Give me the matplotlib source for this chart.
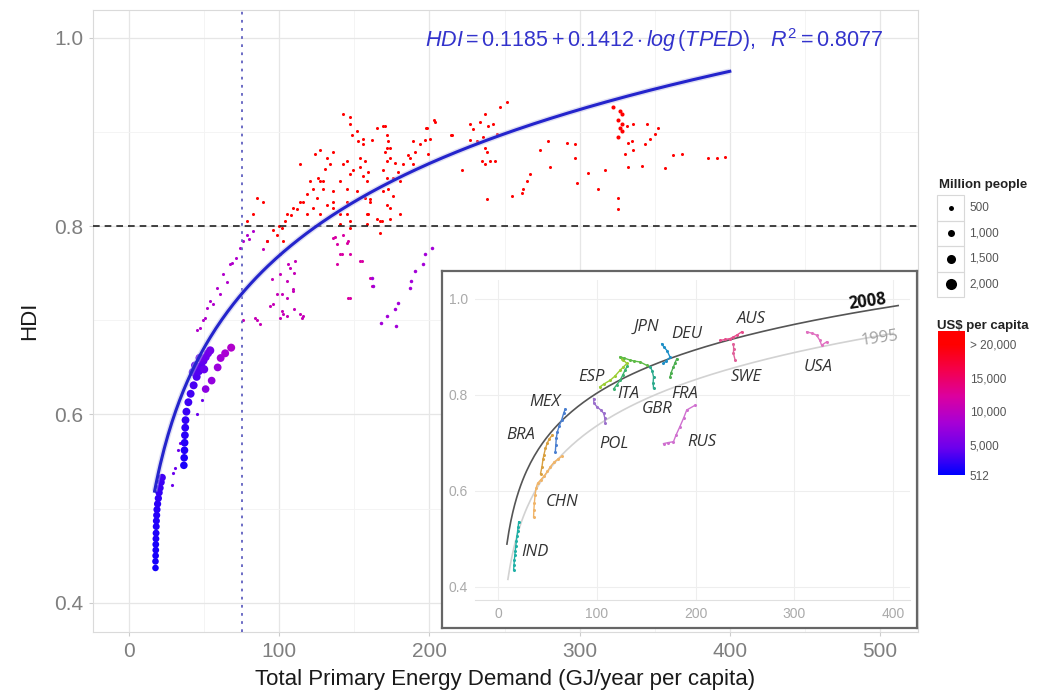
import numpy as np
import matplotlib
matplotlib.use("Agg")
from matplotlib import pyplot as plt
from matplotlib.colors import LinearSegmentedColormap, Normalize
from matplotlib.patches import Rectangle

W, H = 1037, 696

# ---------- main panel: TPED (GJ/yr per capita) vs HDI ----------
# large markers (India / China, year by year)
ind_tped = [17.6, 17.6, 17.7, 17.8, 17.8, 17.9, 18.0, 18.1, 18.2, 18.4, 18.6, 19.0, 19.5, 20.0, 20.6, 21.3, 22.0]
ind_hdi = [0.437, 0.444, 0.450, 0.456, 0.462, 0.468, 0.474, 0.481, 0.487, 0.493, 0.499, 0.505, 0.511, 0.517, 0.522, 0.528, 0.533]
ind_pop = [890, 905, 920, 935, 950, 965, 980, 995, 1010, 1025, 1040, 1055, 1070, 1085, 1100, 1115, 1130]
ind_gdp = [1250, 1300, 1380, 1450, 1500, 1580, 1650, 1720, 1800, 1900, 1980, 2080, 2200, 2350, 2500, 2700, 2900]

chn_tped = [36.5, 36.7, 36.9, 37.0, 37.2, 37.4, 37.6, 38.2, 39.5, 41.0, 43.0, 45.0, 46.5, 48.0, 49.5, 51.0, 52.5, 54.0,
            44.0, 47.0, 50.0, 42.5]
chn_hdi = [0.546, 0.554, 0.562, 0.570, 0.578, 0.586, 0.594, 0.603, 0.613, 0.622, 0.631, 0.640, 0.646, 0.652, 0.657, 0.661, 0.665, 0.668,
           0.652, 0.660, 0.648, 0.645]
chn_pop = [1140, 1150, 1160, 1170, 1180, 1190, 1200, 1210, 1220, 1230, 1240, 1250, 1260, 1270, 1280, 1290, 1300, 1320,
           1300, 1310, 1290, 1280]
chn_gdp = [1500, 1650, 1800, 1950, 2100, 2250, 2400, 2600, 2800, 3000, 3200, 3400, 3600, 3800, 4100, 4400, 4800, 5200,
           4000, 4600, 4300, 3700]

trail_tped = [51, 55, 59, 61, 64, 68]
trail_hdi = [0.627, 0.636, 0.650, 0.660, 0.665, 0.671]
trail_pop = [1150, 1170, 1190, 1210, 1230, 1250]
trail_gdp = [6500, 7000, 7500, 8000, 8500, 9000]

# small markers, grouped by colour band
low_tped = [20.6, 22.0, 28.6, 29.3, 30.6, 32.6, 34.0, 45.0, 48.6]
low_hdi = [0.535, 0.531, 0.525, 0.538, 0.543, 0.562, 0.570, 0.601, 0.615]
low_pop, low_gdp = 60, 4500

band_tped = [45, 47, 49, 50.6, 52, 54, 56, 58.6, 60.6, 62.6, 65, 67, 68.6, 71, 74, 76, 78.5, 80, 82.5]
band_hdi = [0.690, 0.692, 0.700, 0.703, 0.713, 0.721, 0.717, 0.734, 0.728, 0.749, 0.741, 0.760,
            0.761, 0.766, 0.777, 0.784, 0.791, 0.786, 0.795]
band_pop, band_gdp = 45, 9000

mid_tped = [76, 85, 87, 84, 94, 100.5, 102, 105, 110, 116, 115, 102, 105, 109, 100.5, 105, 110, 110.5,
            106, 100.5, 95, 96, 98.5, 107, 109, 102.5, 114, 92, 89]
mid_hdi = [0.700, 0.700, 0.696, 0.703, 0.715, 0.702, 0.710, 0.705, 0.712, 0.705, 0.703, 0.728, 0.724,
           0.733, 0.749, 0.742, 0.750, 0.763, 0.760, 0.770, 0.744, 0.717, 0.728, 0.756, 0.731, 0.707,
           0.707, 0.784, 0.776]
mid_pop, mid_gdp = 45, 10500

m2_tped = [138.5, 140.5, 147, 146, 155, 138.5, 145, 137, 142, 162, 160.5, 147, 153.8, 142.5, 135.8, 146]
m2_hdi = [0.760, 0.770, 0.770, 0.724, 0.763, 0.781, 0.782, 0.789, 0.770, 0.736, 0.745, 0.724, 0.763,
          0.791, 0.787, 0.784]
m2_pop, m2_gdp = 45, 12000

rus_tped = [202, 197, 196, 190.5, 188, 187, 179, 177, 172, 168, 178, 162, 162.5]
rus_hdi = [0.777, 0.770, 0.760, 0.752, 0.742, 0.734, 0.718, 0.712, 0.705, 0.697, 0.694, 0.745, 0.736]
rus_pop, rus_gdp = 145, 8000

red_tped = [142.5, 147, 147, 148.5, 151.8, 152.5, 155.8, 161.8, 165, 170.4, 171.8, 172.4, 171.8, 170.4,
            173.8, 171.8, 169, 177, 179, 182.4, 187, 190.4, 193.7, 197, 200.4, 198.4, 203.7, 215, 199,
            189, 180.4, 175.8, 172.4, 169, 175.8, 171.8, 173.8, 168.4, 167, 159, 160.4, 157, 158.4,
            155.8, 159, 157, 153.8, 149, 147, 142.5, 140.5, 135.8, 133.8, 135.8, 131.8, 127, 124, 129,
            126, 122.5, 118.5, 116, 125, 131.8, 122.5, 118.5, 127, 135.8, 140.5, 147, 145, 145, 151.8,
            158.4, 165, 173.8, 171.8, 169, 173.8, 155.8, 153.8, 145, 130.5, 114, 120.5, 127, 129, 114,
            109, 105, 102, 98.5, 102.5, 92, 89, 85, 82.5, 78.5, 140.5, 147, 158.4, 160.4, 167, 180.4,
            189, 186, 135.8, 145, 100, 104, 108, 112, 96]
red_hdi = [0.919, 0.916, 0.908, 0.897, 0.901, 0.890, 0.893, 0.892, 0.904, 0.906, 0.897, 0.890, 0.883,
           0.879, 0.872, 0.869, 0.860, 0.867, 0.858, 0.866, 0.872, 0.879, 0.887, 0.892, 0.893, 0.904,
           0.911, 0.897, 0.877, 0.866, 0.848, 0.851, 0.840, 0.837, 0.832, 0.823, 0.808, 0.805, 0.793,
           0.813, 0.829, 0.830, 0.848, 0.853, 0.858, 0.869, 0.863, 0.860, 0.855, 0.866, 0.848, 0.837,
           0.866, 0.879, 0.872, 0.881, 0.877, 0.848, 0.851, 0.840, 0.834, 0.826, 0.830, 0.823, 0.819,
           0.813, 0.813, 0.819, 0.802, 0.805, 0.813, 0.826, 0.837, 0.802, 0.808, 0.819, 0.851, 0.906,
           0.883, 0.887, 0.872, 0.869, 0.861, 0.866, 0.848, 0.848, 0.840, 0.826, 0.819, 0.813, 0.798,
           0.791, 0.784, 0.784, 0.826, 0.830, 0.813, 0.805, 0.813, 0.798, 0.813, 0.826, 0.805, 0.813,
           0.890, 0.876, 0.826, 0.840, 0.800, 0.806, 0.812, 0.818, 0.796]
red_pop, red_gdp = 40, 24000

right_tped = [222, 227, 229, 233.7, 237, 239, 242.4, 227, 231.6, 235.6, 237, 238.4, 245, 247, 251.7, 235,
              240.4, 237, 243.7, 238.4, 255, 262.3, 261.6, 265, 267, 273.6, 279, 280.3, 291.6, 297, 297,
              298.3, 305.6, 312, 317, 325.6, 325.6, 332, 331.5, 335.5, 345, 352, 350, 347, 335, 332,
              343.5, 335.5, 330, 362, 368, 385.5, 391.5, 397, 341.5, 357, 202.8, 198, 214.6]
right_hdi = [0.860, 0.908, 0.903, 0.911, 0.919, 0.906, 0.909, 0.892, 0.890, 0.895, 0.883, 0.879, 0.898,
             0.927, 0.932, 0.869, 0.869, 0.866, 0.869, 0.829, 0.832, 0.840, 0.835, 0.848, 0.855, 0.881,
             0.890, 0.863, 0.888, 0.887, 0.872, 0.846, 0.856, 0.839, 0.860, 0.830, 0.818, 0.863, 0.906,
             0.908, 0.908, 0.904, 0.898, 0.893, 0.890, 0.888, 0.887, 0.881, 0.877, 0.876, 0.877, 0.872,
             0.872, 0.874, 0.864, 0.862, 0.913, 0.904, 0.897]
right_pop, right_gdp = 40, 24000

usa_tped = [322, 327, 328, 325.6, 328, 327, 328, 325.6]
usa_hdi = [0.927, 0.922, 0.919, 0.913, 0.909, 0.904, 0.901, 0.895]
usa_pop, usa_gdp = 290, 24000

# fitted model shown in the panel
fit_a, fit_b = 0.1185, 0.1412
fit_range = (17, 400)

# ---------- inset: country trajectories ----------
inset_tracks = {
    "IND": ([15.8, 16.2, 16.5, 17.0, 17.5, 18.0, 18.6, 19.2, 19.8, 20.4, 20.9],
            [0.435, 0.445, 0.455, 0.465, 0.475, 0.485, 0.495, 0.505, 0.515, 0.525, 0.535], "#1FB0A6"),
    "CHN": ([36, 36.3, 36.8, 37.5, 38.5, 40, 43, 46.5, 50, 53, 57, 61, 65],
            [0.545, 0.560, 0.575, 0.590, 0.605, 0.615, 0.622, 0.630, 0.640, 0.650, 0.660, 0.666, 0.672], "#F0B468"),
    "BRA": ([43, 44.5, 45.5, 46.5, 48, 50, 52, 55],
            [0.635, 0.650, 0.665, 0.675, 0.688, 0.700, 0.708, 0.716], "#D9A040"),
    "MEX": ([58, 58.5, 59, 60, 62, 64.5, 66.4, 68],
            [0.681, 0.695, 0.710, 0.722, 0.735, 0.748, 0.761, 0.770], "#4A7FD0"),
    "POL": ([96.7, 97, 100, 104, 107, 108, 108.5],
            [0.792, 0.783, 0.775, 0.768, 0.761, 0.752, 0.740], "#9B6FCC"),
    "ESP": ([103, 107, 113.5, 118, 123.6, 127, 130.4, 127, 125],
            [0.816, 0.822, 0.830, 0.838, 0.851, 0.858, 0.865, 0.872, 0.875], "#9ACD32"),
    "ITA": ([117, 120, 123.6, 126, 128.6, 131],
            [0.812, 0.820, 0.830, 0.840, 0.851, 0.860], "#3CB371"),
    "JPN": ([123.6, 128, 133.8, 138, 144, 150.6],
            [0.879, 0.876, 0.872, 0.870, 0.868, 0.861], "#5DBB46"),
    "GBR": ([154, 156, 157.4, 157, 157.4],
            [0.858, 0.850, 0.837, 0.825, 0.813], "#2BAA8C"),
    "DEU": ([165.8, 168, 171, 174.2, 170, 167.4],
            [0.906, 0.899, 0.892, 0.878, 0.870, 0.865], "#1E90C8"),
    "FRA": ([174.2, 175, 177.6, 179, 181],
            [0.837, 0.845, 0.858, 0.866, 0.875], "#4CAF50"),
    "AUS": ([224.8, 230, 235, 238, 241.6, 246.7],
            [0.913, 0.915, 0.917, 0.920, 0.924, 0.931], "#E64C8C"),
    "SWE": ([238.3, 238.5, 238.3, 240],
            [0.906, 0.896, 0.886, 0.872], "#E0609A"),
    "USA": ([312.4, 318, 322.4, 325.8, 327.5, 332.6],
            [0.931, 0.928, 0.924, 0.913, 0.903, 0.910], "#E070C0"),
    "RUS": ([167.5, 172, 177.6, 180, 184, 188, 191, 199.5],
            [0.698, 0.700, 0.702, 0.715, 0.733, 0.752, 0.768, 0.778], "#D070D0"),
}
inset_labels = {
    "JPN": (150.6, 0.941), "DEU": (191, 0.927), "AUS": (256.8, 0.958), "ESP": (95, 0.837),
    "ITA": (132, 0.802), "FRA": (189.4, 0.802), "GBR": (160.7, 0.771), "SWE": (251.7, 0.837),
    "USA": (324, 0.858), "MEX": (47.8, 0.785), "BRA": (22.6, 0.716), "POL": (117, 0.698),
    "RUS": (206, 0.702), "CHN": (64.7, 0.577), "IND": (37.7, 0.473),
}
fit2008 = (0.2016, 0.1306)
fit1995 = (0.095, 0.139)

legend_pop = [500, 1000, 1500, 2000]
legend_pop_labels = ["500", "1,000", "1,500", "2,000"]
cbar_ticks = [512, 5000, 10000, 15000, 20000]
cbar_labels = ["512", "5,000", "10,000", "15,000", "> 20,000"]

plt.rcParams["font.family"] = ["Liberation Sans", "DejaVu Sans"]
plt.rcParams["mathtext.fontset"] = "custom"
plt.rcParams["mathtext.rm"] = "Liberation Sans"
plt.rcParams["mathtext.it"] = "Liberation Sans:italic"

cmap = LinearSegmentedColormap.from_list(
    "usd", ["#0000FF", "#6A00EE", "#A800D6", "#DC00A0", "#F4004E", "#FF0000"])
norm = Normalize(vmin=512, vmax=20000, clip=True)


def box(l, t, r, b):
    return [l / W, 1 - b / H, (r - l) / W, (b - t) / H]


def marker_area(pop):
    d = 2.9 + 4.1 * np.asarray(pop, dtype=float) / 1000  # diameter in px
    return (d * 0.72) ** 2


fig = plt.figure(figsize=(W / 100, H / 100), dpi=100)
ax = fig.add_axes(box(93, 10, 918, 632))
ax.set_xlim(-24, 525.3)
ax.set_ylim(0.369, 1.0296)
ax.set_xticks([0, 100, 200, 300, 400, 500])
ax.set_yticks([0.4, 0.6, 0.8, 1.0])
ax.set_xticks([50, 150, 250, 350, 450], minor=True)
ax.set_yticks([0.5, 0.7, 0.9], minor=True)
ax.grid(which="major", color="#E6E6E6", lw=0.9)
ax.grid(which="minor", color="#F3F3F3", lw=0.6)
ax.set_axisbelow(True)
for s in ax.spines.values():
    s.set_color("#DADADA")
ax.tick_params(which="major", length=3, color="#CCCCCC", labelsize=15, labelcolor="#7F7F7F", pad=4)
ax.tick_params(which="minor", length=0)
ax.yaxis.set_major_formatter(matplotlib.ticker.FormatStrFormatter("%.1f"))
ax.set_xlabel("Total Primary Energy Demand (GJ/year per capita)", fontsize=16, color="#1A1A1A", labelpad=6)
ax.set_ylabel("HDI", fontsize=16, color="#1A1A1A", labelpad=10)

small_groups = [
    (low_tped, low_hdi, low_pop, low_gdp),
    (band_tped, band_hdi, band_pop, band_gdp),
    (mid_tped, mid_hdi, mid_pop, mid_gdp),
    (m2_tped, m2_hdi, m2_pop, m2_gdp),
    (rus_tped, rus_hdi, rus_pop, rus_gdp),
    (red_tped, red_hdi, red_pop, red_gdp),
    (right_tped, right_hdi, right_pop, right_gdp),
    (usa_tped, usa_hdi, usa_pop, usa_gdp),
]
for tp, hd, pop, gdp in small_groups:
    ax.scatter(tp, hd, s=marker_area(pop), color=cmap(norm(gdp)), lw=0, zorder=3)

for tp, hd, pop, gdp in [(ind_tped, ind_hdi, ind_pop, ind_gdp),
                         (chn_tped, chn_hdi, chn_pop, chn_gdp),
                         (trail_tped, trail_hdi, trail_pop, trail_gdp)]:
    ax.scatter(tp, hd, s=marker_area(pop), c=gdp, cmap=cmap, norm=norm, lw=0, zorder=4)

ax.axhline(0.8, color="#222222", lw=1.2, ls=(0, (4, 3)), zorder=5)
ax.axvline(75, color="#6060C0", lw=1.3, ls=(0, (1.5, 3)), zorder=5)

xf = np.linspace(fit_range[0], fit_range[1], 300)
yf = fit_a + fit_b * np.log(xf)
ax.plot(xf, yf, color="#B8B8E6", lw=4.2, alpha=0.45, solid_capstyle="butt", zorder=6)
ax.plot(xf, yf, color="#2424CC", lw=2.2, zorder=7)

fig.text(654 / W, 1 - 40 / H,
         r"$HDI = 0.1185 + 0.1412 \cdot log\,(TPED),\ \ R^2 = 0.8077$",
         color="#3333CC", fontsize=15.5, ha="center", va="center")

# ---------- inset ----------
frame = fig.add_axes(box(442, 271, 917, 628))
frame.set_xticks([])
frame.set_yticks([])
frame.set_facecolor("white")
for s in frame.spines.values():
    s.set_color("#666666")
    s.set_linewidth(1.6)

ins = fig.add_axes(box(475, 280, 910, 600))
ins.set_facecolor("none")
ins.set_xlim(-23.3, 417)
ins.set_ylim(0.372, 1.039)
ins.set_xticks([0, 100, 200, 300, 400])
ins.set_yticks([0.4, 0.6, 0.8, 1.0])
ins.yaxis.set_major_formatter(matplotlib.ticker.FormatStrFormatter("%.1f"))
ins.grid(color="#EEEEEE", lw=0.8)
ins.set_axisbelow(True)
for k, s in ins.spines.items():
    s.set_visible(k == "bottom")
ins.spines["bottom"].set_color("#E0E0E0")
ins.tick_params(length=0, labelsize=10, labelcolor="#AAAAAA", pad=5)

x08 = np.linspace(9, 405, 200)
ins.plot(x08, fit2008[0] + fit2008[1] * np.log(x08), color="#555555", lw=1.2, zorder=2)
x95 = np.linspace(10, 400, 200)
ins.plot(x95, fit1995[0] + fit1995[1] * np.log(x95), color="#D2D2D2", lw=1.2, zorder=1)

for name, (tp, hd, col) in inset_tracks.items():
    ins.plot(tp, hd, color=col, lw=1.0, marker="o", ms=2.2, mew=0, zorder=3)
for name, (lx, ly) in inset_labels.items():
    ins.text(lx, ly, name, fontsize=12, style="italic", color="#333333",
             family=["Open Sans", "DejaVu Sans"], ha="center", va="center", zorder=4)
ins.text(374, 0.995, "2008", fontsize=12, fontweight="bold", color="#111111",
         family=["Open Sans", "DejaVu Sans"], rotation=8, ha="center", va="center")
ins.text(386, 0.918, "1995", fontsize=12, color="#A0A0A0",
         family=["Open Sans", "DejaVu Sans"], rotation=8, ha="center", va="center")

# ---------- legends ----------
lay = fig.add_axes([0, 0, 1, 1])
lay.set_xlim(0, W)
lay.set_ylim(H, 0)
lay.axis("off")
lay.text(939, 185, "Million people", fontsize=9.5, fontweight="bold", color="#222222", va="center")
key_top = [195, 220.5, 246, 271.5]
for top, pop, lab in zip(key_top, legend_pop, legend_pop_labels):
    lay.add_patch(Rectangle((937, top), 27, 25.5, fill=False, ec="#D8D8D8", lw=0.8))
    lay.scatter([950.5], [top + 12.75], s=marker_area(pop), color="black", lw=0)
    lay.text(969, top + 12.75, lab, fontsize=8.5, color="#555555", va="center")
lay.text(937, 326, "US$ per capita", fontsize=9.5, fontweight="bold", color="#222222", va="center")

cax = fig.add_axes(box(938, 331, 964, 475))
grad = np.linspace(512, 21934, 256)[:, None]
cax.imshow(grad, aspect="auto", origin="lower", extent=[0, 1, 512, 21934], cmap=cmap, norm=norm)
cax.set_xticks([])
cax.yaxis.tick_right()
cax.set_yticks(cbar_ticks)
cax.set_yticklabels(cbar_labels)
cax.tick_params(length=0, labelsize=8.5, labelcolor="#555555", pad=4)
for s in cax.spines.values():
    s.set_visible(False)

fig.savefig("out.png", dpi=100)
